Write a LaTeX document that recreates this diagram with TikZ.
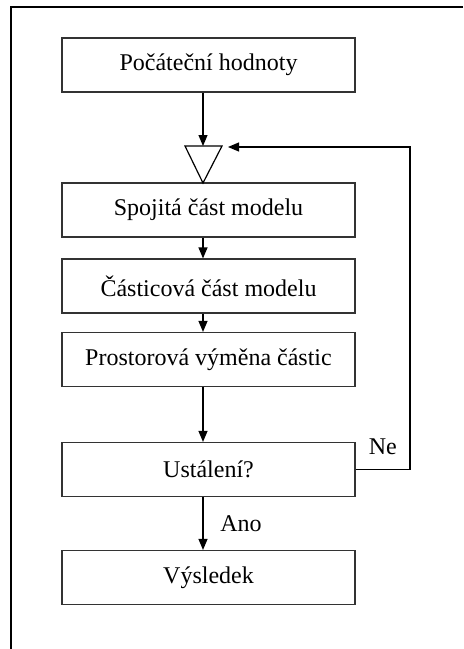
\documentclass[tikz,border=0pt]{standalone}
\usepackage{fontspec}
\setmainfont{Liberation Serif}
\usetikzlibrary{arrows.meta}
\tikzset{
  krok/.style={draw=black!80, line width=0.6pt, minimum width=146.5pt, minimum height=27pt, inner sep=0pt},
  sipka/.style={-{Triangle[length=5.5pt,width=4.5pt]}, line width=0.6pt},
}
\begin{document}
\begin{tikzpicture}[x=0.5pt, y=-0.5pt, font=\fontsize{12}{14}\selectfont]
    \useasboundingbox (0,0) rectangle (463,649);
    % 1. rámeček
    \draw[line width=1pt] (463,6.5) -- (11,6.5) -- (11,649);

    % 2. bloky
    \node[krok] (poc) at (208.5,65) {Počáteční hodnoty};
    \node[krok] (spoj) at (208.5,210) {Spojitá část modelu};
    \node[krok] (cast) at (208.5,286) {Částicová část modelu};
    \node[krok] (vym) at (208.5,359.5) {Prostorová výměna částic};
    \node[krok] (ust) at (208.5,469.5) {Ustálení?};
    \node[krok] (vys) at (208.5,577.5) {Výsledek};

    % 3. sloučení větví (trojúhelník)
    \coordinate (slouc) at (203,146);
    \coordinate (navrat) at (228,147);
    \coordinate (roh) at (410,147);
    \draw[line width=0.6pt] (185,146) -- (222,146) -- (203,183) -- cycle;

    % 4. šipky
    \draw[sipka] (poc.south -| slouc) -- (slouc);
    \draw[sipka] (spoj.south -| slouc) -- (cast.north -| slouc);
    \draw[sipka] (cast.south -| slouc) -- (vym.north -| slouc);
    \draw[sipka] (vym.south -| slouc) -- (ust.north -| slouc);
    \draw[sipka] (ust.south -| slouc) -- node[right=5pt] {Ano} (vys.north -| slouc);

    % 5. zpětná vazba
    \draw[sipka] (ust.east) -- node[above=4pt] {Ne} (ust.east -| roh) -- (roh) -- (navrat);
\end{tikzpicture}
\end{document}
